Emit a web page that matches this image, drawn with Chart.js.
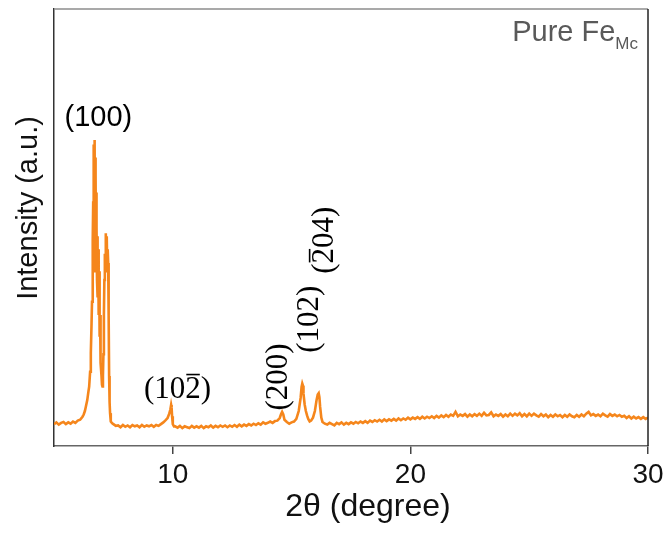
<!DOCTYPE html>
<html>
<head>
<meta charset="utf-8">
<title>Pure Fe XRD</title>
<script src="https://cdn.jsdelivr.net/npm/chart.js@4.4.1/dist/chart.umd.min.js"></script>
<style>
  html, body { margin: 0; padding: 0; background: #fff; }
  #wrap { width: 671px; height: 534px; position: relative; }
</style>
</head>
<body>
<div id="wrap"><canvas id="xrd"></canvas></div>
<script>
// 2theta (degree) and intensity (a.u., 0-1000 = full plot height)
const twoTheta = [
  5.0, 5.1, 5.2, 5.3, 5.4, 5.5, 5.6, 5.7, 5.8, 5.9, 6.0, 6.1,
  6.2, 6.25, 6.3, 6.34, 6.4, 6.45, 6.48, 6.52, 6.55, 6.58, 6.6, 6.62, 6.64, 6.65, 6.66, 6.67, 6.68,
  6.69, 6.7, 6.71, 6.72, 6.73, 6.74, 6.75, 6.76, 6.77, 6.78, 6.79, 6.8, 6.81, 6.82, 6.83, 6.84, 6.85,
  6.86, 6.87, 6.88, 6.89, 6.9, 6.91, 6.92, 6.93, 6.94, 6.95, 6.97, 7.0, 7.02, 7.04, 7.06, 7.08, 7.1,
  7.12, 7.14, 7.16, 7.18, 7.2, 7.22, 7.24, 7.26, 7.28, 7.3, 7.32, 7.34, 7.36, 7.39, 7.45,
  7.5, 7.6, 7.7, 7.8, 7.9, 8.0, 8.1, 8.2, 8.3, 8.4, 8.5, 8.6, 8.7, 8.8, 8.9, 9.0, 9.1, 9.2, 9.3, 9.4,
  9.5, 9.6, 9.7, 9.78, 9.85, 9.9, 9.93, 9.95, 9.97, 10.0, 10.05,
  10.1, 10.2, 10.3, 10.4, 10.5, 10.6, 10.7, 10.8, 10.9, 11.0, 11.1, 11.2, 11.3, 11.4, 11.5, 11.6, 11.7,
  11.8, 11.9, 12.0, 12.1, 12.2, 12.3, 12.4, 12.5, 12.6, 12.7, 12.8, 12.9, 13.0, 13.1, 13.2, 13.3, 13.4,
  13.5, 13.6, 13.7, 13.8, 13.9,
  14.0, 14.1, 14.2, 14.3, 14.4, 14.5, 14.55, 14.6, 14.65, 14.7, 14.8, 14.9, 15.0, 15.1, 15.2, 15.3,
  15.38, 15.42, 15.45, 15.48, 15.5, 15.55, 15.6, 15.65, 15.7, 15.76, 15.82, 15.9, 15.98, 16.05, 16.1,
  16.14, 16.17, 16.2, 16.25, 16.3, 16.4,
  16.5, 16.6, 16.7, 16.8, 16.9, 17.0, 17.1, 17.2, 17.3, 17.4, 17.5, 17.6, 17.7, 17.8, 17.9, 18.0,
  18.1, 18.2, 18.3, 18.4, 18.5, 18.6, 18.7, 18.8, 18.9, 19.0, 19.1, 19.2, 19.3, 19.4, 19.5, 19.6,
  19.7, 19.8, 19.9, 20.0, 20.1, 20.2, 20.3, 20.4, 20.5, 20.6, 20.7, 20.8, 20.9, 21.0, 21.1, 21.2,
  21.3, 21.4, 21.5, 21.6, 21.7, 21.8, 21.9, 22.0, 22.1, 22.2, 22.3, 22.4, 22.5, 22.6, 22.7, 22.8,
  22.9, 23.0, 23.1, 23.2, 23.3, 23.4, 23.5, 23.6, 23.7, 23.8, 23.9, 24.0, 24.1, 24.2, 24.3, 24.4,
  24.5, 24.6, 24.7, 24.8, 24.9, 25.0, 25.1, 25.2, 25.3, 25.4, 25.5, 25.6, 25.7, 25.8, 25.9, 26.0,
  26.1, 26.2, 26.3, 26.4, 26.5, 26.6, 26.7, 26.8, 26.9, 27.0, 27.1, 27.2, 27.3, 27.4, 27.5, 27.6,
  27.7, 27.8, 27.9, 28.0, 28.1, 28.2, 28.3, 28.4, 28.5, 28.6, 28.7, 28.8, 28.9, 29.0, 29.1, 29.2,
  29.3, 29.4, 29.5, 29.6, 29.7, 29.8, 29.9, 30.0
];
const intensity = [
  50, 54, 49, 53, 55, 50, 54, 51, 56, 53, 58, 60,
  67, 72, 80, 90, 105, 125, 136, 170, 213, 280, 330, 380, 470, 560, 640, 480, 690,
  420, 700, 450, 690, 400, 660, 430, 620, 400, 580, 420, 500, 380, 480, 360, 470, 340,
  450, 320, 430, 300, 400, 280, 360, 250, 300, 210, 190, 160, 140, 136, 160, 210, 300,
  380, 440, 420, 487, 400, 480, 410, 450, 419, 300, 160, 100, 75, 56, 52,
  50, 46, 47, 43, 48, 44, 47, 43, 48, 45, 47, 43, 48, 44, 47, 45, 48, 44, 48, 46,
  50, 54, 59, 64, 74, 84, 94, 88, 68, 50, 45,
  45, 42, 46, 41, 45, 43, 41, 46, 42, 45, 42, 46, 41, 45, 43, 47, 42,
  46, 43, 47, 44, 47, 43, 47, 44, 48, 44, 49, 45, 49, 46, 50, 47, 51,
  48, 52, 49, 54, 51,
  53, 56, 53, 57, 58, 64, 72, 78, 72, 60, 55, 51, 54, 56, 62, 80,
  110, 135, 143, 138, 120, 95, 80, 70, 62, 56, 58, 65, 80, 105, 118,
  121, 112, 90, 65, 55, 51,
  49, 53, 50, 47, 53, 50, 54, 49, 53, 50, 54, 51, 55, 52, 56, 53,
  57, 53, 58, 55, 59, 56, 60, 56, 61, 57, 61, 58, 62, 58, 63, 59,
  63, 60, 65, 61, 65, 62, 66, 62, 67, 63, 67, 64, 68, 64, 69, 65,
  70, 66, 71, 67, 72, 69, 78, 68, 72, 69, 73, 67, 72, 68, 73, 69,
  74, 69, 76, 70, 71, 77, 68, 72, 69, 73, 67, 72, 68, 74, 69, 74,
  70, 75, 68, 73, 68, 74, 69, 74, 70, 67, 73, 68, 72, 66, 71, 67,
  72, 68, 71, 66, 71, 67, 72, 68, 66, 71, 67, 72, 68, 74, 78, 70,
  73, 69, 72, 68, 74, 70, 67, 73, 69, 72, 68, 71, 67, 69, 64, 68,
  63, 67, 63, 66, 62, 66, 62, 65
];
const xTicks = [10, 20, 30];
const peakNames = ['(100)', '(102)', '(200)', '(102)', '(204)'];

const ORANGE = '#f5861c';
const SANS = '"Liberation Sans", Arial, sans-serif';
const SERIF = '"Liberation Serif", "Times New Roman", serif';

// draw an hkl label centred on (cx, cy); barAt = index of the digit with a bar over it
function hklText(ctx, text, cx, cy, size, rotate, barAt) {
  ctx.save();
  ctx.translate(cx, cy);
  if (rotate) ctx.rotate(-Math.PI / 2);
  ctx.font = size + 'px ' + SERIF;
  ctx.textAlign = 'left';
  ctx.textBaseline = 'alphabetic';
  const w = ctx.measureText(text).width;
  const base = size * 0.33;
  ctx.fillText(text, -w / 2, base);
  if (barAt != null) {
    const off = ctx.measureText(text.slice(0, barAt)).width;
    const cw = ctx.measureText(text[barAt]).width;
    ctx.beginPath();
    ctx.lineWidth = 1.6;
    ctx.strokeStyle = '#000';
    ctx.moveTo(-w / 2 + off + 1, base - size * 0.76);
    ctx.lineTo(-w / 2 + off + cw - 1, base - size * 0.76);
    ctx.stroke();
  }
  ctx.restore();
}

const annotations = {
  id: 'annotations',
  afterDraw(chart) {
    const { ctx, chartArea: a, scales: { x, y } } = chart;
    ctx.save();

    // top and right frame lines
    ctx.lineWidth = 1.5;
    ctx.strokeStyle = '#8c8c8c';
    ctx.beginPath();
    ctx.moveTo(a.left, a.top);
    ctx.lineTo(a.right, a.top);
    ctx.stroke();
    ctx.strokeStyle = '#222';
    ctx.beginPath();
    ctx.moveTo(a.right, a.top);
    ctx.lineTo(a.right, a.bottom);
    ctx.stroke();

    // axis titles (placed off-centre like the original)
    ctx.fillStyle = '#111';
    ctx.textAlign = 'center';
    ctx.textBaseline = 'middle';
    ctx.save();
    ctx.translate(a.left - 25, a.top + 199);
    ctx.rotate(-Math.PI / 2);
    ctx.font = '29px ' + SANS;
    ctx.fillText('Intensity (a.u.)', 0, 0);
    ctx.restore();
    ctx.font = '32px ' + SANS;
    ctx.fillText('2θ (degree)', a.left + 314, a.bottom + 61);

    // sample name
    ctx.fillStyle = '#595959';
    ctx.textBaseline = 'alphabetic';
    ctx.textAlign = 'right';
    ctx.font = '17px ' + SANS;
    const subW = ctx.measureText('Mc').width;
    ctx.fillText('Mc', a.right - 10, a.top + 40);
    ctx.font = '29px ' + SANS;
    ctx.fillText('Pure Fe', a.right - 10 - subW, a.top + 32);

    // peak labels
    ctx.fillStyle = '#000';
    ctx.font = '29px ' + SANS;
    ctx.textAlign = 'center';
    ctx.textBaseline = 'middle';
    ctx.fillText(peakNames[0], x.getPixelForValue(6.87), y.getPixelForValue(750));
    hklText(ctx, peakNames[1], x.getPixelForValue(10.2), y.getPixelForValue(133), 31, false, 3);
    hklText(ctx, peakNames[2], x.getPixelForValue(14.37), y.getPixelForValue(158), 31, true, null);
    hklText(ctx, peakNames[3], x.getPixelForValue(15.68), y.getPixelForValue(290), 31, true, null);
    hklText(ctx, peakNames[4], x.getPixelForValue(16.32), y.getPixelForValue(471), 31, true, 1);

    ctx.restore();
  }
};

new Chart(document.getElementById('xrd'), {
  type: 'line',
  data: {
    datasets: [{
      data: twoTheta.map((t, i) => ({ x: t, y: intensity[i] })),
      borderColor: ORANGE,
      borderWidth: 2.6,
      pointRadius: 0,
      tension: 0,
      fill: false
    }]
  },
  options: {
    responsive: true,
    maintainAspectRatio: false,
    animation: false,
    layout: { padding: { top: 9, right: 23, left: 0, bottom: 0 } },
    plugins: { legend: { display: false }, tooltip: { enabled: false } },
    scales: {
      x: {
        type: 'linear',
        min: 5,
        max: 30,
        afterBuildTicks: (scale) => { scale.ticks = xTicks.map(v => ({ value: v })); },
        afterFit: (scale) => { scale.height = 88; },
        grid: { display: true, drawOnChartArea: false, drawTicks: true, tickLength: 8, color: '#444', lineWidth: 1.5 },
        border: { display: true, color: '#666', width: 1.5 },
        ticks: { font: { family: SANS, size: 28 }, color: '#111', padding: 4, maxRotation: 0 },
        title: { display: false }
      },
      y: {
        min: 0,
        max: 1000,
        afterFit: (scale) => { scale.width = 54; },
        grid: { display: false, drawTicks: false },
        border: { display: true, color: '#333', width: 1.5 },
        ticks: { display: false }
      }
    }
  },
  plugins: [annotations]
});
</script>
</body>
</html>
